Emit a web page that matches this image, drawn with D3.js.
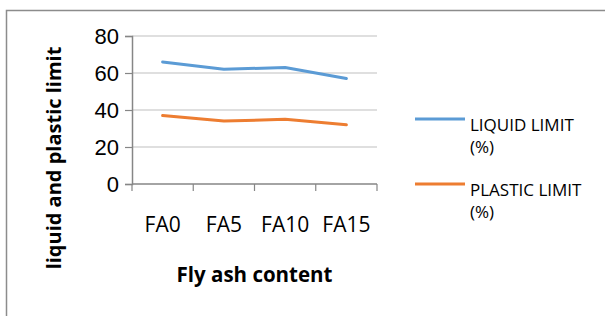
<!DOCTYPE html>
<html>
<head>
<meta charset="utf-8">
<script src="https://cdn.jsdelivr.net/npm/d3@7"></script>
<style>
  body { margin: 0; background: #fff; }
  svg { display: block; font-family: "Open Sans", sans-serif; }
</style>
</head>
<body>
<div id="chart"></div>
<script>
// 数据
const categories = ["FA0", "FA5", "FA10", "FA15"];
const liquidLimit = [66, 62, 63, 57];
const plasticLimit = [37, 34, 35, 32];
const yTicks = [0, 20, 40, 60, 80];
const seriesNames = ["LIQUID LIMIT", "PLASTIC LIMIT"];

const width = 605;
const height = 316;

const svg = d3.select("#chart")
    .append("svg")
    .attr("width", width)
    .attr("height", height);

// 外框 (只看到左边和上边)
svg.append("rect")
    .attr("x", 6.5)
    .attr("y", 10.5)
    .attr("width", 620)
    .attr("height", 340)
    .attr("fill", "none")
    .attr("stroke", "#8c8c8c")
    .attr("stroke-width", 1.5);

const plot = { left: 132, right: 377, top: 36, bottom: 184 };

const x = d3.scaleBand()
    .domain(categories)
    .range([plot.left, plot.right]);

const y = d3.scaleLinear()
    .domain([0, 80])
    .range([plot.bottom, plot.top]);

// 网格线
svg.append("g")
    .selectAll("line")
    .data(yTicks.filter(d => d > 0))
    .enter()
    .append("line")
    .attr("x1", plot.left)
    .attr("x2", plot.right)
    .attr("y1", d => y(d))
    .attr("y2", d => y(d))
    .attr("stroke", "#bfbfbf")
    .attr("stroke-width", 1.2);

// y 轴
const yAxis = svg.append("g")
    .attr("transform", `translate(${plot.left},0)`)
    .call(d3.axisLeft(y).tickValues(yTicks).tickSize(7).tickPadding(6));
yAxis.select(".domain").attr("stroke", "#868686").attr("stroke-width", 1.5);
yAxis.selectAll(".tick line").attr("stroke", "#868686").attr("stroke-width", 1.2);
yAxis.selectAll(".tick text")
    .style("font-size", "22px")
    .attr("dy", "0.36em")
    .attr("fill", "#000");

// x 轴
const xAxisG = svg.append("g")
    .attr("transform", `translate(0,${plot.bottom})`);
xAxisG.append("line")
    .attr("x1", plot.left)
    .attr("x2", plot.right)
    .attr("stroke", "#868686")
    .attr("stroke-width", 1.5);
const boundaries = categories.map(c => x(c)).concat([plot.right]);
xAxisG.selectAll(".xtick")
    .data(boundaries)
    .enter()
    .append("line")
    .attr("x1", d => d)
    .attr("x2", d => d)
    .attr("y1", 0)
    .attr("y2", 7)
    .attr("stroke", "#868686")
    .attr("stroke-width", 1.2);
xAxisG.selectAll(".xlabel")
    .data(categories)
    .enter()
    .append("text")
    .attr("x", d => x(d) + x.bandwidth() / 2)
    .attr("y", 48)
    .attr("text-anchor", "middle")
    .style("font-size", "21px")
    .text(d => d);

// 折线
const line = d3.line()
    .x((d, i) => x(categories[i]) + x.bandwidth() / 2)
    .y(d => y(d));

const colors = ["#5b9bd5", "#ed7d31"];
[liquidLimit, plasticLimit].forEach((s, i) => {
    svg.append("path")
        .datum(s)
        .attr("d", line)
        .attr("fill", "none")
        .attr("stroke", colors[i])
        .attr("stroke-width", 3)
        .attr("stroke-linejoin", "round")
        .attr("stroke-linecap", "round");
});

// 轴标题
svg.append("text")
    .attr("x", plot.left + (plot.right - plot.left) / 2)
    .attr("y", 282)
    .attr("text-anchor", "middle")
    .style("font-size", "20.5px")
    .style("font-weight", "bold")
    .text("Fly ash content");

svg.append("text")
    .attr("transform", "translate(61,158) rotate(-90)")
    .attr("text-anchor", "middle")
    .style("font-size", "20px")
    .style("font-weight", "bold")
    .text("liquid and plastic limit");

// 图例
const legend = svg.append("g");
const legendY = [119, 184];
seriesNames.forEach((name, i) => {
    const g = legend.append("g").attr("transform", `translate(415,${legendY[i]})`);
    g.append("line")
        .attr("x1", 0)
        .attr("x2", 50)
        .attr("stroke", colors[i])
        .attr("stroke-width", 3);
    g.append("text")
        .attr("x", 55)
        .attr("y", 12)
        .style("font-size", "17px")
        .text(name);
    g.append("text")
        .attr("x", 55)
        .attr("y", 34)
        .style("font-size", "17px")
        .text("(%)");
});
</script>
</body>
</html>
